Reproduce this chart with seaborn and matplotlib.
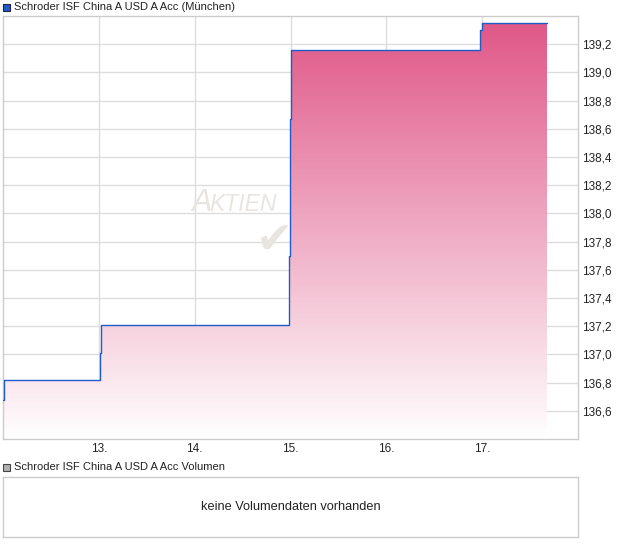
import numpy as np
import pandas as pd
import matplotlib
matplotlib.use('Agg')
import matplotlib.pyplot as plt
from matplotlib.colors import LinearSegmentedColormap
from matplotlib.patches import Rectangle
import seaborn as sns

# price data (day of month, value)
days = [12.00, 12.01, 13.01, 13.02, 14.98, 14.99, 15.00, 16.98, 17.00, 17.68]
prices = [136.68, 136.82, 137.01, 137.21, 137.70, 138.67, 139.16, 139.30, 139.35, 139.35]
x_ticks = [13, 14, 15, 16, 17]
x_labels = ['13.', '14.', '15.', '16.', '17.']
y_ticks = [136.6, 136.8, 137.0, 137.2, 137.4, 137.6, 137.8, 138.0, 138.2, 138.4, 138.6, 138.8, 139.0, 139.2]

title_main = 'Schroder ISF China A USD A Acc (München)'
title_vol = 'Schroder ISF China A USD A Acc Volumen'
no_vol_text = 'keine Volumendaten vorhanden'

df = pd.DataFrame({'day': days, 'price': prices})

sns.set_style('white')
plt.rcParams['font.family'] = ['Liberation Sans', 'DejaVu Sans']

W, H = 620, 546
fig = plt.figure(figsize=(W / 100, H / 100), dpi=100)

def box(l, t, r, b):
    return [l / W, 1 - b / H, (r - l) / W, (b - t) / H]

ax = fig.add_axes(box(3, 16, 578, 439))
ymin, ymax = 136.4, 139.4
ax.set_xlim(12.0, 18.0)
ax.set_ylim(ymin, ymax)

grid_c = '#dddddd'
for yt in y_ticks:
    ax.axhline(yt, color=grid_c, lw=1, zorder=0)
for xt in x_ticks:
    ax.axvline(xt, color=grid_c, lw=1, zorder=0)

# watermark
wm = '#e8e5e1'
ax.text(0.327, 0.538, 'A', transform=ax.transAxes, fontsize=22, style='italic',
        color=wm, ha='left', va='baseline', zorder=0.5)
ax.text(0.359, 0.538, 'KTIEN', transform=ax.transAxes, fontsize=16.5, style='italic',
        color=wm, ha='left', va='baseline', zorder=0.5)
ax.text(0.472, 0.47, '\u2714', transform=ax.transAxes, fontsize=32, family='DejaVu Sans',
        color=wm, ha='center', va='center', zorder=0.5)

# gradient fill under the step line
poly = ax.fill_between(df['day'], df['price'], ymin, step='post',
                       facecolor='none', edgecolor='none')
cmap = LinearSegmentedColormap.from_list('pink', ['#ffffff', '#df5586'])
grad = np.linspace(0, 1, 256).reshape(-1, 1)
im = ax.imshow(grad, extent=[df['day'].min(), df['day'].max(), ymin, ymax],
               origin='lower', aspect='auto', cmap=cmap, zorder=1)
im.set_clip_path(poly.get_paths()[0], transform=ax.transData)

sns.lineplot(data=df, x='day', y='price', drawstyle='steps-post', color='#1f5cc8',
             lw=1.0, ax=ax, zorder=3, sort=False)

ax.set_xlim(12.0, 18.0)
ax.set_ylim(ymin, ymax)
ax.set_xlabel('')
ax.set_ylabel('')
ax.set_xticks(x_ticks)
ax.set_xticklabels(x_labels, fontsize=8.5, color='#222222')
ax.set_yticks(y_ticks)
ax.set_yticklabels([f'{v:.1f}'.replace('.', ',') for v in y_ticks], fontsize=8.5, color='#222222')
ax.yaxis.tick_right()
ax.tick_params(axis='y', length=0, pad=3)
ax.tick_params(axis='x', length=0, pad=3)
for s in ax.spines.values():
    s.set_color('#cccccc')
    s.set_linewidth(1)

# legend-like headers
fig.patches.append(Rectangle((3 / W, 1 - 11 / H), 7 / W, 7 / H, transform=fig.transFigure,
                             facecolor='#1f5cc8', edgecolor='#222244', lw=0.8))
fig.text(14 / W, 1 - 7 / H, title_main, fontsize=8, va='center', ha='left', color='#222222')

fig.patches.append(Rectangle((3 / W, 1 - 471 / H), 7 / W, 7 / H, transform=fig.transFigure,
                             facecolor='#b0b0b0', edgecolor='#444444', lw=0.8))
fig.text(14 / W, 1 - 467 / H, title_vol, fontsize=8, va='center', ha='left', color='#222222')

# volume panel
axv = fig.add_axes(box(3, 477, 578, 537))
axv.set_xticks([])
axv.set_yticks([])
for s in axv.spines.values():
    s.set_color('#cccccc')
    s.set_linewidth(1)
axv.text(0.5, 0.5, no_vol_text, transform=axv.transAxes, ha='center', va='center',
         fontsize=9.2, color='#222222')

fig.savefig('out.png', dpi=100)
